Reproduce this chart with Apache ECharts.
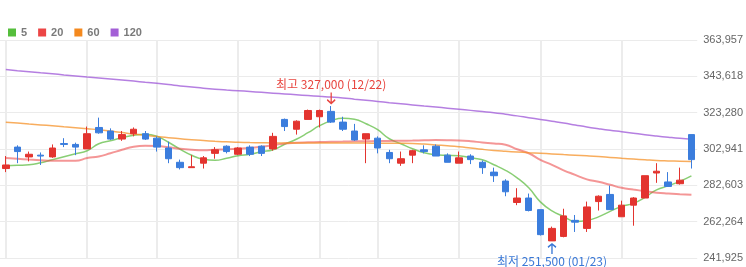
<!DOCTYPE html>
<html><head><meta charset="utf-8">
<script src="https://cdn.jsdelivr.net/npm/echarts@6/dist/echarts.min.js"></script>
<style>html,body{margin:0;padding:0;background:#fff}#c{width:746px;height:267px}</style>
</head><body><div id="c"></div>
<script>
const dates = ['11/14','11/15','11/16','11/17','11/20','11/21','11/22','11/23','11/24','11/27','11/28','11/29','11/30','12/01','12/04','12/05','12/06','12/07','12/08','12/11','12/12','12/13','12/14','12/15','12/18','12/19','12/20','12/21','12/22','12/26','12/27','12/28','01/02','01/03','01/04','01/05','01/08','01/09','01/10','01/11','01/12','01/15','01/16','01/17','01/18','01/19','01/22','01/23','01/24','01/25','01/26','01/29','01/30','01/31','02/01','02/02','02/05','02/06','02/07','02/08'];
const opens  = [292000,304000,298500,299500,298500,306000,305500,303000,315000,313000,308500,311500,311500,309000,303500,295500,292500,295000,300500,304500,300000,304000,304500,303000,319500,314000,319500,321000,324000,318000,313000,308500,309000,301000,295000,299500,302500,304500,299500,295000,299000,295500,290000,285000,273000,275500,269000,251500,254000,263000,258500,273500,277500,265000,271500,275500,289500,284500,283500,311000];
const closes = [294000,301500,300000,299000,303500,305500,304000,311500,312000,308500,311000,314000,308500,304000,297500,292500,293000,298000,302500,301500,303500,300000,300500,310000,315500,318500,324500,324500,318000,314000,308000,311500,303500,297500,297500,302000,301500,299000,295500,298000,297000,292500,288000,279000,275500,268500,255000,258500,265500,262000,270500,276500,269000,271500,275500,288000,290500,282000,285500,297000];
const lows   = [290000,295000,296000,294000,298000,304000,299500,303000,311500,308000,307500,310000,308000,301500,295000,291500,292500,292000,297500,300500,299500,299000,299000,302000,313000,311000,319500,315000,317500,313000,307500,295000,300500,295000,293500,295000,300500,299000,295500,295000,294500,289000,284500,276500,271500,268000,254500,251500,253500,256500,256500,268500,269000,265000,260000,275500,284000,282000,283000,292000];
const highs  = [299000,305000,301500,301000,305500,309000,306500,315500,320500,314500,313000,315000,313000,310000,307000,297000,299500,299000,304000,305000,304000,305000,305000,312000,320000,319000,325000,325000,327000,321000,317000,311500,310000,302500,301500,302500,305000,305500,300500,301500,300000,296500,292500,286000,281000,278000,269000,259500,269500,266000,273500,277000,282500,274000,276000,288000,295000,290000,292500,311000];
const ma5   = [293540,293820,294100,295220,296900,298590,300270,301950,305880,307560,309250,310650,311210,310090,306720,302790,299430,297180,296620,297750,299150,299990,301390,302510,305600,308400,312050,315980,318780,320190,319620,317100,313730,308680,305880,303070,300830,299710,299430,299150,298030,296900,294100,291010,286810,281200,273340,268290,265210,262400,262960,264930,268010,270820,272500,275870,280070,282320,284840,287930];
const ma20  = [297860,297460,297020,296620,296340,296340,296340,297860,298750,300550,302510,304200,304760,304590,303920,303070,302510,302230,302510,302740,303070,303520,304200,305040,306050,306440,306660,306830,307000,307110,307230,307280,307390,307450,307560,307670,307840,307960,307900,307730,307280,306610,306050,305320,302790,300550,296900,294100,291010,288490,285960,284560,282880,281200,280240,279340,278500,278000,277610,277270];
const ma60  = [317940,317440,316930,316430,315920,315360,314860,314290,313730,313000,312160,311320,310590,309920,309250,308680,308120,307670,307280,306950,306720,306550,306440,306330,306300,306280,306270,306260,306250,306250,306240,306230,306220,306200,306170,306050,305710,305210,304760,304200,303470,302740,302120,301670,301280,300890,300550,300210,299820,299480,299150,298750,298250,297750,297300,296900,296510,296290,296120,295950];
const ma120 = [347390,346780,346220,345600,345040,344420,343860,343240,342680,342120,341560,340940,340320,339710,339030,338250,337630,336960,336400,335950,335560,335110,334660,334210,333760,333310,332860,332410,332020,331520,330840,330230,329550,328880,328260,327590,326970,326410,325800,325180,324560,323940,323270,322370,321480,320470,319510,318500,317490,316370,315250,314290,313400,312610,311770,310930,310200,309530,308910,308400];
const yTickLabels = ['241,925','262,264','282,603','302,941','323,280','343,618','363,957'];
const gridDates = ['11/14','11/23','12/01','12/12','12/21','01/02','01/11','01/22','01/31'];
const legendNames = ['5','20','60','120'];

const yMin = 241925, yStep = 20338.5, yMax = yMin + 6 * yStep;
const UP = '#e3342f', DOWN = '#3b7ddd';
const CJK = "'Noto Sans CJK KR', 'Noto Sans', sans-serif";

let hiIdx = 0, loIdx = 0;
highs.forEach((h, i) => { if (h > highs[hiIdx]) hiIdx = i; });
lows.forEach((l, i) => { if (l < lows[loIdx]) loIdx = i; });
const fmt = v => v.toLocaleString('en-US');

const chart = echarts.init(document.getElementById('c'), null, {renderer: 'canvas'});
function maSeries(name, data, iconColor, lineColor, width) {
  return {
    name, type: 'line', data, smooth: true, showSymbol: false, symbol: 'none',
    itemStyle: {color: iconColor},
    lineStyle: {color: lineColor, width},
    silent: true, z: 2
  };
}
chart.setOption({
  animation: false,
  legend: {
    data: legendNames, left: 3, top: 22, icon: 'rect', itemWidth: 8, itemHeight: 8, itemGap: 11,
    textStyle: {color: '#7a7a7a', fontSize: 11, fontWeight: 'bold', fontFamily: 'Liberation Sans, Arial, sans-serif'},
    selectedMode: false
  },
  grid: {left: 0, right: 47, top: 40, bottom: 9},
  xAxis: {
    type: 'category', data: dates, boundaryGap: true,
    axisLine: {show: false}, axisTick: {show: false}, axisLabel: {show: false}, splitLine: {show: false}
  },
  yAxis: {
    type: 'value', position: 'right', min: yMin, max: yMax, interval: yStep,
    axisLine: {show: false}, axisTick: {show: false},
    axisLabel: {
      margin: 6, color: '#666', fontSize: 11, fontFamily: 'Liberation Sans, Arial, sans-serif',
      formatter: v => yTickLabels[Math.round((v - yMin) / yStep)] || ''
    },
    splitLine: {lineStyle: {color: '#ebebeb', width: 1}}
  },
  series: [
    maSeries('5', ma5, '#55be3c', 'rgba(98,190,70,0.75)', 1.5),
    maSeries('20', ma20, '#ec4545', 'rgba(236,80,80,0.6)', 2),
    maSeries('60', ma60, '#f4891e', 'rgba(245,145,40,0.75)', 1.5),
    maSeries('120', ma120, '#a35fd6', 'rgba(168,105,220,0.85)', 1.5),
    {
      name: 'price', type: 'candlestick', z: 3, barWidth: 7,
      data: dates.map((d, i) => [opens[i], closes[i], lows[i], highs[i]]),
      itemStyle: {color: UP, color0: DOWN, borderColor: UP, borderColor0: DOWN, borderWidth: 1},
      markLine: {
        silent: true, z: 0, symbol: 'none', animation: false,
        label: {show: false},
        lineStyle: {color: '#ececec', width: 2, type: 'solid'},
        data: gridDates.map(d => ({xAxis: d}))
      },
      markPoint: {
        silent: true, animation: false,
        data: [
          {
            coord: [dates[hiIdx], highs[hiIdx]],
            symbol: 'path://M5,0 L5,12 M1,8 L5,12 L9,8', symbolSize: [8, 11], symbolOffset: [0, -8],
            itemStyle: {color: 'rgba(0,0,0,0)', borderColor: '#e8453f', borderWidth: 1.5},
            label: {show: true, position: 'top', distance: 1, color: '#e8453f', fontSize: 12, fontFamily: CJK,
              formatter: '최고 ' + fmt(highs[hiIdx]) + ' (' + dates[hiIdx] + ')'}
          },
          {
            coord: [dates[loIdx], lows[loIdx]],
            symbol: 'path://M5,12 L5,0 M1,4 L5,0 L9,4', symbolSize: [8, 10], symbolOffset: [0, 8],
            itemStyle: {color: 'rgba(0,0,0,0)', borderColor: '#3a78d6', borderWidth: 1.5},
            label: {show: true, position: 'bottom', distance: 1, color: '#3a78d6', fontSize: 12, fontFamily: CJK,
              formatter: '최저 ' + fmt(lows[loIdx]) + ' (' + dates[loIdx] + ')'}
          }
        ]
      }
    }
  ]
});
</script>
</body></html>
